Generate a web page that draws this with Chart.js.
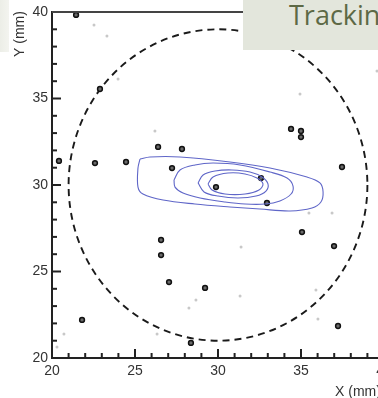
<!DOCTYPE html>
<html>
<head>
<meta charset="utf-8">
<script src="https://cdn.jsdelivr.net/npm/chart.js@4"></script>
<style>
    html, body {margin: 0; padding: 0; background: #fff; overflow: hidden; width: 378px; height: 398px;}
    #wrap {position: relative; width: 378px; height: 398px; overflow: hidden;}
    #chart_xy {position: absolute; left: 0; top: 0;}
    .side_box {position: absolute; left: 0; top: 0; width: 9px; height: 52px; background: linear-gradient(90deg, #eceee7, #f3f4ef);}
    .title_box {position: absolute; left: 243px; top: 0; width: 160px; height: 50px; background: #e3e6dc;
        font-family: 'Open Sans', sans-serif; font-size: 27px; color: #5d6945; white-space: nowrap; overflow: hidden;}
    .title_box span {position: absolute; left: 46px; top: -4px;}
</style>
</head>
<body>
<div id="wrap">
    <canvas id="chart_xy" width="400" height="398"></canvas>
    <div class="side_box"></div>
    <div class="title_box"><span>Tracking</span></div>
</div>
<script>
//축 눈금
const tickValues = [20, 25, 30, 35, 40];

//검은 점 (mm)
const blackX = [21.45, 22.89, 20.42, 22.59, 24.46, 26.39, 27.83, 27.23, 34.40, 35.00, 35.00, 37.47, 32.59, 29.88, 32.95, 26.57, 26.57, 27.05, 21.81, 28.37, 35.06, 36.99, 29.22, 37.23];
const blackY = [39.83, 35.55, 31.39, 31.27, 31.33, 32.20, 32.08, 30.98, 33.24, 33.12, 32.77, 31.04, 30.40, 29.88, 28.96, 26.82, 25.95, 24.39, 22.20, 20.87, 27.28, 26.47, 24.05, 21.85];

//회색 점 (mm)
const grayX = [22.53, 23.31, 23.98, 26.20, 34.94, 39.58, 20.72, 20.30, 26.33, 28.25, 35.48, 36.87, 31.39, 28.67, 31.33, 35.90, 36.02];
const grayY = [39.25, 38.61, 36.13, 33.12, 35.26, 36.59, 21.39, 20.64, 21.39, 22.89, 28.38, 28.38, 26.42, 23.35, 23.58, 23.93, 22.25];

//등고선 (바깥 -> 안쪽)
const contour1X = [25.30, 25.90, 27.71, 30.72, 33.13, 35.36, 36.14, 36.33, 36.20, 35.66, 34.34, 32.53, 30.72, 28.61, 26.69, 25.48, 25.18, 25.18, 25.30];
const contour1Y = [31.50, 31.62, 31.62, 31.33, 30.98, 30.46, 30.12, 29.60, 29.02, 28.67, 28.50, 28.61, 28.73, 28.90, 29.13, 29.48, 29.88, 30.98, 31.50];
const contour2X = [27.35, 27.71, 28.61, 29.70, 31.33, 33.13, 34.16, 34.52, 34.40, 33.73, 32.83, 31.63, 30.42, 28.92, 27.89, 27.41, 27.35];
const contour2Y = [30.29, 30.87, 31.16, 31.27, 31.16, 30.75, 30.40, 29.94, 29.48, 29.08, 28.90, 28.90, 29.02, 29.25, 29.54, 29.88, 30.29];
const contour3X = [28.80, 29.10, 29.82, 30.84, 31.93, 32.65, 33.01, 32.89, 32.29, 31.20, 30.00, 29.16, 28.80];
const contour3Y = [30.12, 30.58, 30.81, 30.87, 30.75, 30.46, 30.06, 29.65, 29.36, 29.25, 29.36, 29.60, 30.12];
const contour4X = [29.40, 29.70, 30.60, 31.63, 32.35, 32.71, 32.47, 31.63, 30.42, 29.64, 29.40];
const contour4Y = [30.06, 30.46, 30.69, 30.64, 30.40, 30.06, 29.71, 29.48, 29.48, 29.71, 30.06];

//점선 원 (중심, 반지름)
const circleCenter = [30, 30];
const circleRadius = 9;

const zip = (xs, ys) => xs.map((x, i) => ({x, y: ys[i]}));
const axisColor = '#222';
const labelFont = {family: 'Liberation Sans', size: 14};

function contourSet(xs, ys) {
    return {
        data: zip(xs, ys),
        showLine: true,
        borderColor: '#5f66c8',
        borderWidth: 1.1,
        tension: 0.35,
        pointRadius: 0,
        clip: false
    };
}

//scale 크기 고정
function fixScale(size) {
    return function(scale) {
        if (scale.isHorizontal()) scale.height = size; else scale.width = size;
        scale.paddingTop = scale.paddingBottom = scale.paddingLeft = scale.paddingRight = 0;
    };
}

const circlePlugin = {
    id: 'dashCircle',
    beforeDatasetsDraw(chart) {
        const {ctx, scales: {x, y}} = chart;
        const cx = x.getPixelForValue(circleCenter[0]);
        const cy = y.getPixelForValue(circleCenter[1]);
        const rx = x.getPixelForValue(circleCenter[0] + circleRadius) - cx;
        const ry = cy - y.getPixelForValue(circleCenter[1] + circleRadius);
        ctx.save();
        ctx.strokeStyle = '#1a1a1a';
        ctx.lineWidth = 1.9;
        ctx.setLineDash([7, 5]);
        ctx.beginPath();
        ctx.ellipse(cx, cy, rx, ry, 0, 0, Math.PI * 2);
        ctx.stroke();
        ctx.restore();
    }
};

const framePlugin = {
    id: 'frame',
    afterDraw(chart) {
        const {ctx, chartArea: area, scales: {x, y}} = chart;
        ctx.save();
        ctx.strokeStyle = axisColor;
        ctx.lineWidth = 2;
        //안쪽 눈금
        for (let v = 20; v <= 40; v++) {
            const len = v % 5 === 0 ? 9 : 5;
            const px = x.getPixelForValue(v);
            ctx.beginPath();
            ctx.moveTo(px, area.bottom);
            ctx.lineTo(px, area.bottom - len);
            ctx.stroke();
            const py = y.getPixelForValue(v);
            ctx.beginPath();
            ctx.moveTo(area.left, py);
            ctx.lineTo(area.left + len, py);
            ctx.stroke();
        }
        //위쪽 테두리
        ctx.strokeStyle = '#444';
        ctx.lineWidth = 1.8;
        ctx.beginPath();
        ctx.moveTo(area.left, area.top);
        ctx.lineTo(area.right, area.top);
        ctx.stroke();
        //축 제목
        ctx.fillStyle = '#333';
        ctx.font = '14px "Liberation Sans"';
        ctx.textBaseline = 'alphabetic';
        ctx.textAlign = 'left';
        ctx.fillText('X (mm)', 335, 396);
        ctx.translate(24, 34);
        ctx.rotate(-Math.PI / 2);
        ctx.textAlign = 'center';
        ctx.fillText('Y (mm)', 0, 0);
        ctx.restore();
    }
};

new Chart(document.getElementById('chart_xy'), {
    type: 'scatter',
    data: {
        datasets: [
            contourSet(contour1X, contour1Y),
            contourSet(contour2X, contour2Y),
            contourSet(contour3X, contour3Y),
            contourSet(contour4X, contour4Y),
            {
                data: zip(grayX, grayY),
                pointRadius: 1.5,
                pointBorderWidth: 0,
                backgroundColor: '#c8c8c8',
                borderColor: '#c8c8c8',
                clip: false
            },
            {
                data: zip(blackX, blackY),
                pointRadius: 2.4,
                pointBorderWidth: 1.5,
                backgroundColor: '#6a6a6a',
                borderColor: '#111',
                clip: false
            }
        ]
    },
    options: {
        responsive: false,
        animation: false,
        devicePixelRatio: 1,
        layout: {padding: {top: 12, right: 16, left: 0, bottom: 0}},
        plugins: {legend: {display: false}, tooltip: {enabled: false}},
        scales: {
            x: {
                type: 'linear',
                min: 20,
                max: 40,
                afterBuildTicks: scale => { scale.ticks = tickValues.map(value => ({value})); },
                afterFit: fixScale(40),
                ticks: {color: '#333', font: labelFont, padding: 5, maxRotation: 0, autoSkip: false},
                grid: {drawOnChartArea: false, drawTicks: false},
                border: {display: true, color: axisColor, width: 2}
            },
            y: {
                type: 'linear',
                min: 20,
                max: 40,
                afterBuildTicks: scale => { scale.ticks = tickValues.map(value => ({value})); },
                afterFit: fixScale(52),
                ticks: {color: '#333', font: labelFont, padding: 4, autoSkip: false},
                grid: {drawOnChartArea: false, drawTicks: false},
                border: {display: true, color: axisColor, width: 2}
            }
        }
    },
    plugins: [circlePlugin, framePlugin]
});
</script>
</body>
</html>
